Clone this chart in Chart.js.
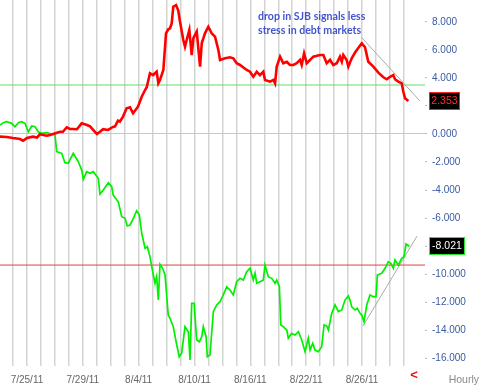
<!DOCTYPE html>
<html>
<head>
<meta charset="utf-8">
<script src="https://cdn.jsdelivr.net/npm/chart.js@4.4.1/dist/chart.umd.min.js"></script>
<style>
  html, body { margin: 0; padding: 0; background: #fff; }
  #wrap { width: 480px; height: 386px; position: relative; }
</style>
</head>
<body>
<div id="wrap"><canvas id="chart"></canvas></div>
<script>
// trading days shown as vertical grid lines (index = x value)
const tradingDays = ["7/22/11", "7/25/11", "7/26/11", "7/27/11", "7/28/11", "7/29/11",
    "8/1/11", "8/2/11", "8/3/11", "8/4/11", "8/5/11",
    "8/8/11", "8/9/11", "8/10/11", "8/11/11", "8/12/11",
    "8/15/11", "8/16/11", "8/17/11", "8/18/11", "8/19/11",
    "8/22/11", "8/23/11", "8/24/11", "8/25/11", "8/26/11",
    "8/29/11", "8/30/11", "8/31/11"];
const yTicks = [8, 6, 4, 2, 0, -2, -4, -6, -8, -10, -12, -14, -16];

// red series (SJB), time in trading days
const redDays = [-0.93, -0.45, 0, 0.5, 0.72, 1.0, 1.43, 1.72, 1.93, 2.41, 2.65, 2.87, 3.15, 3.37, 3.58, 3.85, 4.08, 4.3, 4.58, 4.92,
    5.3, 5.52, 5.87, 6.02, 6.23, 6.45, 6.81, 7.16, 7.31, 7.52, 7.66, 7.88, 8.14, 8.38, 8.6, 8.95, 9.22, 9.46, 9.58, 9.81,
    10.03, 10.29, 10.41, 10.53, 10.77, 10.96, 11.12, 11.25, 11.37, 11.48, 11.68, 11.84, 11.96, 12.2, 12.32, 12.44, 12.63, 12.8, 12.92, 13.16,
    13.4, 13.52, 13.75, 13.99, 14.23, 14.47, 14.71, 14.83, 15.19, 15.54, 15.78, 16.02, 16.26, 16.74, 16.98, 17.21, 17.46, 17.69, 17.93, 18.05,
    18.41, 18.65, 18.77, 18.89, 19.13, 19.36, 19.61, 19.84, 20.08, 20.32, 20.56, 20.68, 20.85, 21.04, 21.28, 21.51, 21.99, 22.23, 22.47, 22.71,
    22.94, 23.19, 23.42, 23.55, 23.66, 23.9, 24.02, 24.26, 24.5, 24.73, 24.98, 25.21, 25.45, 25.81, 26.17, 26.53, 26.77, 27.01, 27.24, 27.36,
    27.6, 27.84, 27.96, 28.08, 28.32];
const redValues = [-0.19, -0.21, -0.29, -0.36, -0.48, -0.29, -0.19, -0.26, -0.02, -0.12, -0.07, 0.0, 0.09, 0.16, 0.16, 0.48, 0.36, 0.36, 0.34, 0.76,
    0.64, 0.54, 0.16, 0.0, 0.16, 0.34, 0.29, 0.5, 0.54, 0.95, 0.89, 1.24, 1.84, 1.91, 1.48, 1.95, 2.66, 3.14, 3.34, 4.34,
    4.21, 4.45, 3.62, 3.86, 4.57, 7.19, 7.48, 7.55, 7.91, 9.09, 9.21, 8.82, 8.04, 6.71, 6.24, 6.71, 7.43, 5.64, 6.84, 7.31,
    4.81, 6.48, 7.19, 7.66, 7.19, 6.95, 6.0, 5.29, 5.41, 5.48, 5.41, 5.05, 4.93, 4.57, 4.45, 4.09, 4.45, 4.21, 4.45, 3.86,
    3.74, 3.86, 3.62, 4.81, 5.52, 5.05, 5.16, 4.93, 4.93, 5.05, 5.29, 4.93, 5.76, 5.05, 5.29, 5.52, 5.64, 5.64, 5.05, 5.29,
    4.93, 5.05, 5.52, 5.16, 5.64, 5.29, 4.81, 5.41, 5.82, 6.14, 6.48, 6.21, 5.16, 4.81, 4.38, 4.05, 3.91, 4.09, 4.21, 3.91,
    3.74, 3.62, 3.02, 2.55, 2.353];

// green series
const greenDays = [-0.93, -0.69, -0.45, -0.09, 0.14, 0.38, 0.62, 0.86, 1.1, 1.34, 1.58, 1.81, 2.06, 2.41, 2.77, 3.01, 3.13, 3.49, 3.72, 3.96,
    4.32, 4.68, 4.92, 5.04, 5.28, 5.52, 5.75, 6.11, 6.23, 6.47, 6.83, 7.07, 7.18, 7.54, 7.79, 8.02, 8.19, 8.38, 8.57, 8.86,
    9.05, 9.22, 9.46, 9.62, 9.81, 10.05, 10.17, 10.29, 10.41, 10.53, 10.72, 10.89, 11.12, 11.25, 11.48, 11.73, 11.91, 12.08, 12.32, 12.56,
    12.68, 12.8, 12.97, 13.16, 13.35, 13.52, 13.63, 13.83, 13.92, 14.11, 14.35, 14.59, 14.83, 15.06, 15.31, 15.54, 15.78, 16.02, 16.26, 16.5,
    16.74, 16.98, 17.21, 17.34, 17.46, 17.69, 17.93, 18.05, 18.29, 18.53, 18.77, 18.89, 19.08, 19.18, 19.36, 19.61, 19.72, 19.96, 20.2, 20.44,
    20.68, 20.92, 21.15, 21.28, 21.47, 21.63, 21.87, 22.11, 22.28, 22.47, 22.59, 22.83, 23.07, 23.3, 23.55, 23.78, 24.02, 24.14, 24.26, 24.5,
    24.66, 24.86, 24.98, 25.14, 25.34, 25.57, 25.81, 26.0, 26.1, 26.41, 26.65, 26.88, 27.06, 27.24, 27.36, 27.6, 27.84, 28.01, 28.15, 28.39];
const greenValues = [0.64, 0.81, 0.88, 0.76, 0.52, 0.81, 0.88, 0.76, 0.16, 0.57, 0.52, 0.16, 0.05, 0.09, 0.0, -0.07, -1.26, -1.38, -2.05, -2.09,
    -1.38, -1.98, -2.57, -3.24, -2.69, -2.81, -2.69, -3.16, -4.29, -4.0, -3.48, -3.76, -4.36, -4.84, -5.91, -6.02, -6.57, -6.5, -6.14, -5.48,
    -5.79, -7.09, -8.16, -8.05, -8.76, -10.07, -10.66, -10.19, -11.86, -9.31, -9.59, -10.07, -12.93, -13.16, -13.76, -15.07, -15.91, -15.66, -13.76, -14.12,
    -16.14, -12.09, -12.09, -14.71, -14.84, -14.48, -13.76, -14.48, -15.91, -15.79, -12.69, -12.21, -11.98, -11.5, -10.91, -11.14, -11.5, -10.55, -10.31, -10.43,
    -9.84, -9.59, -10.43, -9.95, -10.66, -10.55, -10.43, -9.36, -10.19, -10.31, -10.66, -10.43, -10.91, -13.64, -13.76, -14.0, -14.59, -14.24, -14.36, -14.12,
    -14.71, -15.55, -14.59, -15.43, -14.95, -15.43, -15.55, -15.19, -13.64, -13.71, -14.0, -12.81, -12.21, -12.69, -12.57, -11.86, -11.57, -11.86, -12.34, -12.57,
    -12.45, -12.81, -12.93, -13.41, -12.21, -11.5, -11.62, -11.62, -10.07, -9.95, -9.59, -9.12, -9.24, -9.59, -9.0, -9.36, -8.88, -8.76, -7.86, -8.021];

// reference levels and hand drawn trend lines
const greenLevel = 3.5;
const redLevel = -9.36;
const redTrendDays = [24.93, 29.15];
const redTrendValues = [6.93, 2.36];
const greenTrendDays = [25.07, 28.94];
const greenTrendValues = [-13.71, -7.29];

const noteLines = ["drop in SJB signals less", "stress in debt markets"];
const xMin = -0.93, xMax = 29.51;

const pts = (xs, ys) => xs.map((x, i) => ({ x: x, y: ys[i] }));

// tags, caption and small marks
const overlay = {
    id: "overlay",
    afterDraw(chart) {
        const { ctx, scales } = chart;
        const y = scales.y;
        ctx.save();
        ctx.font = "bold 10.6px Lato";
        ctx.fillStyle = "#4455cc";
        ctx.textAlign = "left";
        ctx.textBaseline = "middle";
        ctx.fillText(noteLines[0], 258, 17);
        ctx.fillText(noteLines[1], 258, 31);

        const tag = (val, border, color, w) => {
            const py = Math.round(y.getPixelForValue(val));
            ctx.fillStyle = "#000";
            ctx.fillRect(429, py - 9, w, 18);
            ctx.strokeStyle = border;
            ctx.lineWidth = 1;
            ctx.strokeRect(429.5, py - 8.5, w - 1, 17);
            ctx.fillStyle = color;
            ctx.font = "10.5px 'Liberation Sans'";
            ctx.textAlign = "center";
            ctx.fillText(val.toFixed(3), 429 + w / 2, py + 0.5);
        };
        tag(redValues[redValues.length - 1], "#ff2020", "#ff3030", 31);
        tag(greenValues[greenValues.length - 1], "#22ee22", "#fff", 36);

        ctx.fillStyle = "#e01010";
        ctx.font = "bold 13px 'Liberation Sans'";
        ctx.textAlign = "center";
        ctx.fillText("<", 414, 375);
        ctx.fillStyle = "#8a8a8a";
        ctx.font = "10.5px 'Liberation Sans'";
        ctx.textAlign = "right";
        ctx.fillText("Hourly", 479, 380);
        ctx.restore();
    },
};

function initChart() {
    const ctx = document.getElementById("chart").getContext("2d");
    new Chart(ctx, {
        type: "line",
        data: {
            datasets: [
                {
                    label: "SJB",
                    data: pts(redDays, redValues),
                    borderColor: "#ff0000",
                    borderWidth: 2.6,
                    pointRadius: 0,
                    tension: 0,
                },
                {
                    label: "Green",
                    data: pts(greenDays, greenValues),
                    borderColor: "#00f000",
                    borderWidth: 1.7,
                    pointRadius: 0,
                    tension: 0,
                },
                {
                    data: pts([xMin, xMax], [greenLevel, greenLevel]),
                    borderColor: "#66dd66",
                    borderWidth: 1,
                    pointRadius: 0,
                },
                {
                    data: pts([xMin, xMax], [redLevel, redLevel]),
                    borderColor: "#dd4444",
                    borderWidth: 1,
                    pointRadius: 0,
                },
                {
                    data: pts(redTrendDays, redTrendValues),
                    borderColor: "#aaaaaa",
                    borderWidth: 1,
                    pointRadius: 0,
                },
                {
                    data: pts(greenTrendDays, greenTrendValues),
                    borderColor: "#aaaaaa",
                    borderWidth: 1,
                    pointRadius: 0,
                },
            ],
        },
        options: {
            responsive: true,
            maintainAspectRatio: false,
            animation: false,
            events: [],
            layout: { padding: 0 },
            plugins: { legend: { display: false }, tooltip: { enabled: false } },
            scales: {
                x: {
                    type: "linear",
                    min: xMin,
                    max: xMax,
                    afterBuildTicks: (s) => {
                        s.ticks = tradingDays.map((_, i) => ({ value: i }));
                    },
                    afterFit: (s) => {
                        s.height = 20;
                        s.paddingLeft = 0;
                        s.paddingRight = 0;
                    },
                    border: { display: false },
                    grid: { color: "#d3d3d3", lineWidth: 1.5, drawTicks: false },
                    ticks: {
                        autoSkip: false,
                        maxRotation: 0,
                        padding: 8,
                        color: "#666",
                        font: { family: "Liberation Sans", size: 10 },
                        callback: (v) => ((v - 1) % 4 === 0 ? tradingDays[v] : ""),
                    },
                },
                y: {
                    position: "right",
                    min: -16.57,
                    max: 9.57,
                    afterBuildTicks: (s) => {
                        s.ticks = yTicks.map((v) => ({ value: v }));
                    },
                    afterFit: (s) => {
                        s.width = 55;
                        s.paddingTop = 0;
                        s.paddingBottom = 0;
                    },
                    border: { display: false },
                    grid: {
                        color: (c) => (c.tick && c.tick.value === 0 ? "#c8c8c8" : "rgba(0,0,0,0)"),
                        tickColor: "#bbbbbb",
                        tickLength: 2,
                    },
                    ticks: {
                        padding: 5,
                        color: "#3a5aa0",
                        font: { family: "Liberation Sans", size: 10 },
                        callback: (v) => v.toFixed(3),
                    },
                },
            },
        },
        plugins: [overlay],
    });
}

document.addEventListener("DOMContentLoaded", initChart);
</script>
</body>
</html>
